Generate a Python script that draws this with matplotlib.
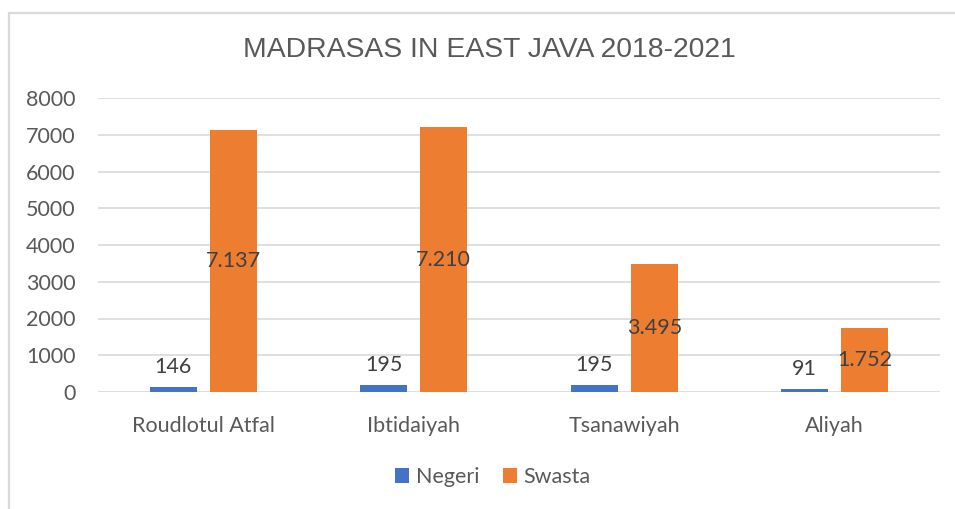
import matplotlib
matplotlib.use("Agg")
import matplotlib.pyplot as plt
from matplotlib.patches import Rectangle

categories = ["Roudlotul Atfal", "Ibtidaiyah", "Tsanawiyah", "Aliyah"]
negeri = [146, 195, 195, 91]
swasta = [7137, 7210, 3495, 1752]
series_names = ["Negeri", "Swasta"]
yticks = [0, 1000, 2000, 3000, 4000, 5000, 6000, 7000, 8000]
title = "MADRASAS IN EAST JAVA 2018-2021"

BLUE = "#4472C4"
ORANGE = "#ED7D31"
GRID = "#D9D9D9"
TXT = "#595959"
LBL = "#404040"
FONT = ["Lato", "DejaVu Sans"]
FS = 15.5

W, H = 955, 509
fig = plt.figure(figsize=(W / 100, H / 100), dpi=100)

# chart frame (light gray border, left and top visible)
fig.patches.append(Rectangle((8.5 / W, -0.1), 2.0, (1 - 13.5 / H) + 0.1,
                             transform=fig.transFigure, fill=False,
                             edgecolor=GRID, linewidth=1.6))

ax = fig.add_axes([98 / W, 1 - 392 / H, (940 - 98) / W, (392 - 98) / H])

x = list(range(len(categories)))
bw = 0.223
off = 0.1425
b1 = ax.bar([i - off for i in x], negeri, width=bw, color=BLUE, label=series_names[0], zorder=3)
b2 = ax.bar([i + off for i in x], swasta, width=bw, color=ORANGE, label=series_names[1], zorder=3)

ax.set_xlim(-0.5, len(categories) - 0.5)
ax.set_ylim(0, 8000)
ax.set_yticks(yticks)
ax.set_yticklabels([str(v) for v in yticks], fontfamily=FONT, fontsize=FS, color=TXT)
ax.set_xticks(x)
ax.set_xticklabels(categories, fontfamily=FONT, fontsize=FS, color=TXT)
ax.tick_params(axis="both", length=0)
ax.tick_params(axis="y", pad=16)
ax.tick_params(axis="x", pad=17)
ax.yaxis.grid(True, color=GRID, linewidth=1.2, zorder=0)
ax.set_axisbelow(True)
for s in ax.spines.values():
    s.set_visible(False)

for rect, v in zip(b1, negeri):
    ax.annotate(str(v), (rect.get_x() + rect.get_width() / 2, rect.get_height()),
                xytext=(0, 14), textcoords="offset points", ha="center", va="center",
                fontfamily=FONT, fontsize=FS, color=LBL, zorder=4)
for rect, v in zip(b2, swasta):
    s = f"{v:,}".replace(",", ".")
    ax.text(rect.get_x() + rect.get_width() / 2, rect.get_height() / 2, s,
            ha="center", va="center", fontfamily=FONT, fontsize=FS, color=LBL, zorder=4)

fig.text(489 / W, 1 - 50 / H, title, ha="center", va="center",
         fontfamily=["Liberation Sans", "DejaVu Sans"], fontsize=20.4, color=TXT)

leg = fig.legend(handles=[b1, b2], labels=series_names, loc="center",
                 bbox_to_anchor=(493 / W, 1 - 477 / H), ncol=2, frameon=False,
                 prop={"family": FONT, "size": FS}, handlelength=0.65, handleheight=0.65,
                 handletextpad=0.3, columnspacing=1.1)
for t in leg.get_texts():
    t.set_color(TXT)

fig.savefig("out.png", dpi=100)
